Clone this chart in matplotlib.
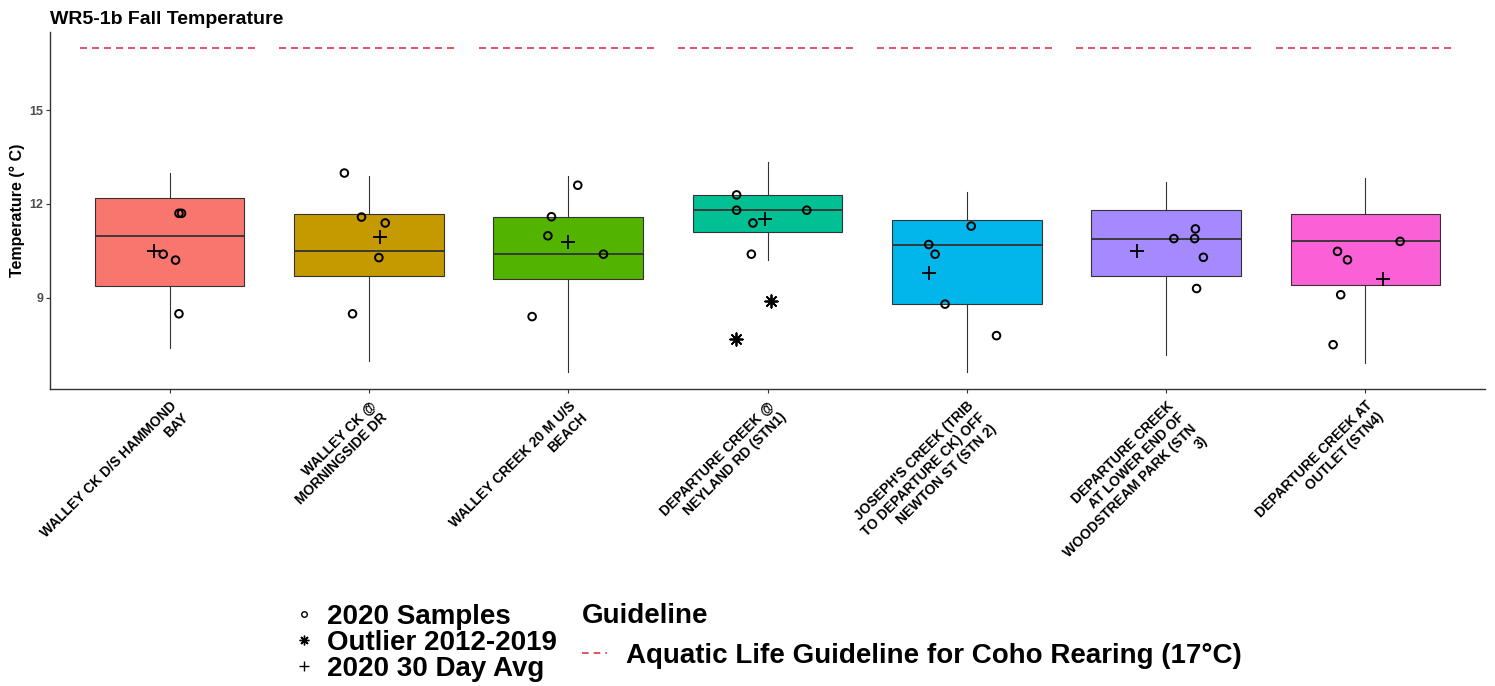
import matplotlib.pyplot as plt
import numpy as np
from matplotlib.lines import Line2D

plt.rcParams['font.family'] = ['Liberation Sans', 'DejaVu Sans']

# site names (x categories)
sites = [
    "WALLEY CK D/S HAMMOND\nBAY",
    "WALLEY CK @\nMORNINGSIDE DR",
    "WALLEY CREEK 20 M U/S\nBEACH",
    "DEPARTURE CREEK @\nNEYLAND RD (STN1)",
    "JOSEPH'S CREEK (TRIB\nTO DEPARTURE CK) OFF\nNEWTON ST (STN 2)",
    "DEPARTURE CREEK\nAT LOWER END OF\nWOODSTREAM PARK (STN\n3)",
    "DEPARTURE CREEK AT\nOUTLET (STN4)",
]

# 2012-2019 box stats
box_low = [7.38, 6.98, 6.61, 10.21, 6.61, 7.16, 6.89]
box_q1 = [9.38, 9.69, 9.60, 11.10, 8.79, 9.69, 9.39]
box_median = [10.98, 10.50, 10.39, 11.80, 10.70, 10.89, 10.80]
box_q3 = [12.19, 11.68, 11.59, 12.29, 11.49, 11.80, 11.69]
box_high = [13.00, 12.90, 12.91, 13.34, 12.39, 12.71, 12.82]

# 2020 samples and the jitter they were drawn with
samples = [
    [11.70, 11.70, 10.39, 10.20, 8.48],
    [12.99, 11.58, 11.39, 10.28, 8.48],
    [12.60, 11.59, 10.98, 10.39, 8.39],
    [12.29, 11.80, 11.80, 11.39, 10.39],
    [11.29, 10.70, 10.39, 8.79, 7.78],
    [11.20, 10.89, 10.89, 10.29, 9.29],
    [10.80, 10.48, 10.21, 9.09, 7.49],
]
sample_jitter = [
    [0.047, 0.060, -0.032, 0.030, 0.047],
    [-0.123, -0.037, 0.082, 0.050, -0.082],
    [0.048, -0.084, -0.102, 0.177, -0.181],
    [-0.155, -0.155, 0.197, -0.073, -0.081],
    [0.022, -0.191, -0.159, -0.109, 0.149],
    [0.147, 0.039, 0.143, 0.187, 0.153],
    [0.174, -0.140, -0.090, -0.124, -0.162],
]

# 2020 30 day average
avg_30day = [10.50, 10.95, 10.77, 11.52, 9.78, 10.50, 9.60]
avg_jitter = [-0.080, 0.055, -0.002, -0.013, -0.192, -0.144, 0.089]

# outliers 2012-2019
outlier_site = [4, 4]
outlier_vals = [8.89, 7.67]
outlier_jitter = [0.019, -0.158]

guideline = 17

box_colors = ['#F8766D', '#C49A00', '#53B400', '#00C094', '#00B6EB', '#A58AFF', '#FB61D7']
guide_color = '#D83A4E'
dark = '#333333'

fig = plt.figure(figsize=(14.95, 6.86), dpi=100)
ax = fig.add_axes([50 / 1495, 1 - 389 / 686, 1435 / 1495, 357 / 686])

xs = np.arange(1, len(sites) + 1)
stats = []
for i in range(len(sites)):
    stats.append(dict(whislo=box_low[i], q1=box_q1[i], med=box_median[i],
                      q3=box_q3[i], whishi=box_high[i], label=''))

bp = ax.bxp(stats, positions=xs, widths=0.75, patch_artist=True,
            showcaps=False, showfliers=False,
            boxprops=dict(edgecolor=dark, linewidth=0.8),
            whiskerprops=dict(color=dark, linewidth=0.8),
            medianprops=dict(color=dark, linewidth=1.3))
for patch, c in zip(bp['boxes'], box_colors):
    patch.set_facecolor(c)

ax.hlines([guideline] * len(sites), xs - 0.45, xs + 0.45, colors=guide_color,
          linestyles=(0, (4.2, 3)), linewidth=1.2, zorder=3)

for i in range(len(sites)):
    ax.scatter(xs[i] + np.array(sample_jitter[i]), samples[i], marker='o',
               facecolors='none', edgecolors='black', s=30, linewidths=1.4, zorder=4)

ax.scatter(xs + np.array(avg_jitter), avg_30day, marker='+', s=110,
           c='black', linewidths=1.3, zorder=5)
ax.scatter(np.array(outlier_site) + np.array(outlier_jitter), outlier_vals,
           marker=(8, 2, 0), s=80, c='black', linewidths=1.3, zorder=5)

ax.set_xlim(0.4, 7.6)
ax.set_ylim(6.07, 17.51)
ax.set_yticks([9, 12, 15])
ax.set_xticks(xs)
ax.set_xticklabels(sites, rotation=45, ha='right', va='top', rotation_mode='anchor',
                   fontsize=10, fontweight='bold', multialignment='right')
ax.tick_params(axis='x', length=3, pad=4, color=dark)
ax.tick_params(axis='y', length=3, pad=2, color=dark, labelsize=9, labelcolor='#4D4D4D')
for lab in ax.get_yticklabels():
    lab.set_fontweight('bold')

for side in ['top', 'right']:
    ax.spines[side].set_visible(False)
for side in ['left', 'bottom']:
    ax.spines[side].set_color(dark)
    ax.spines[side].set_linewidth(1.0)

ax.set_ylabel('Temperature (° C)', fontsize=11.5, fontweight='bold', labelpad=3)
ax.set_title('WR5-1b Fall Temperature', loc='left', fontsize=14, fontweight='bold', pad=6)

# legends
h1 = [
    Line2D([], [], ls='none', marker='o', mfc='none', mec='black', ms=4, mew=1),
    Line2D([], [], ls='none', marker=(8, 2, 0), color='black', ms=7, mew=1),
    Line2D([], [], ls='none', marker='+', color='black', ms=7, mew=1),
]
fig.legend(h1, ['2020 Samples', 'Outlier 2012-2019', '2020 30 Day Avg'],
           loc='upper left', bbox_to_anchor=(293 / 1495, 1 - 603.5 / 686),
           frameon=False, prop={'weight': 'bold', 'size': 20},
           handlelength=0.8, handletextpad=0.41, labelspacing=0.0,
           borderpad=0, borderaxespad=0)

h2 = [Line2D([], [], color=guide_color, ls=(0, (4, 3)), lw=1.2)]
fig.legend(h2, ['Aquatic Life Guideline for Coho Rearing (17°C)'],
           title='Guideline', title_fontproperties={'weight': 'bold', 'size': 20},
           alignment='left', loc='upper left', bbox_to_anchor=(582 / 1495, 1 - 603 / 686),
           frameon=False, prop={'weight': 'bold', 'size': 20},
           handlelength=0.9, handletextpad=0.7, borderpad=0, borderaxespad=0)

fig.savefig('out.png', dpi=100)
